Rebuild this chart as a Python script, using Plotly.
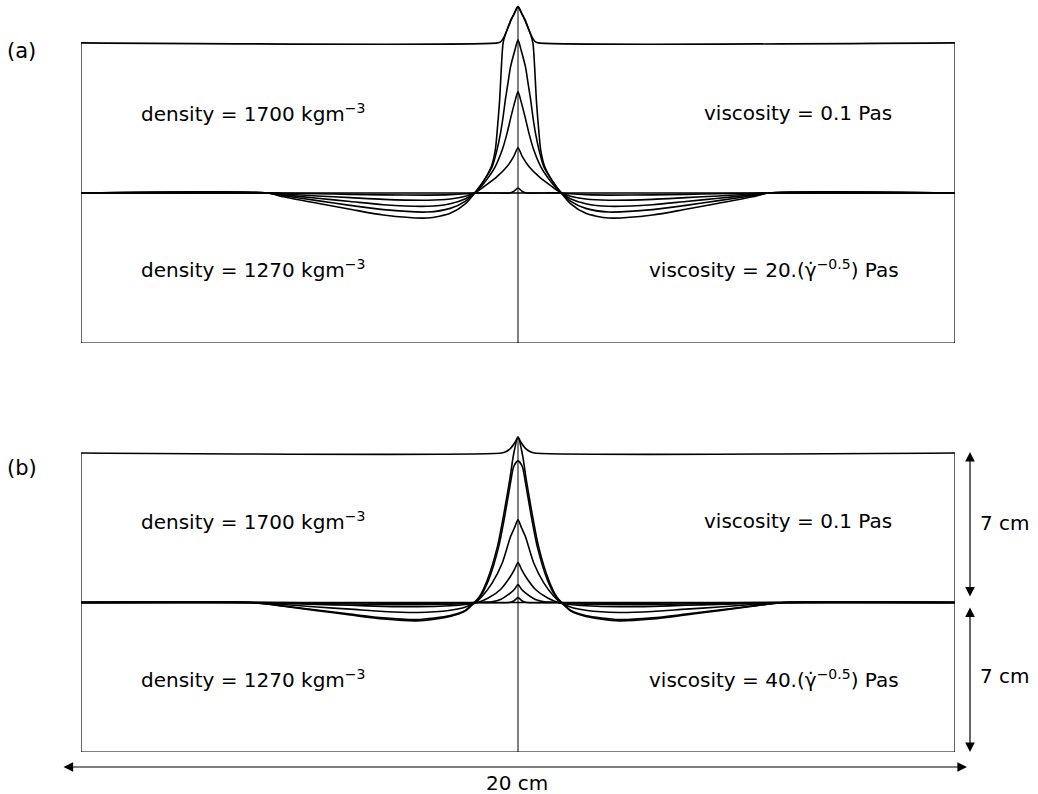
import plotly.graph_objects as go

# ---------------- data (cm); half profiles x <= 0, mirrored about x = 0
# Panel (a)
A_TROUGH_X = [-10, -5.74, -5.37, -4.59, -3.84, -3.08, -2.07, -1.55, -1.2]
A1_TROUGH = [0, 0, -0.015, -0.04, -0.065, -0.09, -0.10, -0.08, -0.04]
A2_TROUGH = [0, 0, -0.05, -0.14, -0.22, -0.30, -0.34, -0.28, -0.15]
A3_TROUGH = [0, 0, -0.09, -0.25, -0.40, -0.55, -0.62, -0.50, -0.27]
A4_TROUGH = [0, 0, -0.13, -0.36, -0.58, -0.78, -0.89, -0.72, -0.38]
A5_TROUGH = [0, 0, -0.18, -0.48, -0.76, -1.03, -1.17, -0.95, -0.50]

A1_PEAK_X = [-0.97, -0.6, -0.2, -0.1, 0]
A1_PEAK_Y = [0, 0, 0, 0.07, 0.23]
A2_PEAK_X = [-0.97, -0.78, -0.48, -0.25, -0.10, 0]
A2_PEAK_Y = [0.02, 0.29, 0.76, 1.23, 1.69, 2.11]
A3_PEAK_X = [-0.93, -0.72, -0.52, -0.36, -0.25, -0.16, -0.06, 0]
A3_PEAK_Y = [0.10, 0.61, 1.23, 2.01, 2.79, 3.56, 4.34, 4.73]
A4_PEAK_X = [-0.97, -0.77, -0.59, -0.48, -0.40, -0.34, -0.29, -0.23, -0.17, -0.07, 0]
A4_PEAK_Y = [0.05, 0.61, 1.23, 2.01, 2.79, 3.56, 4.34, 5.12, 5.89, 6.67, 7.14]
A5_PEAK_X = [-0.97, -0.77, -0.61, -0.52, -0.48, -0.42, -0.38, -0.34, -0.28, -0.22, -0.16, -0.08, 0]
A5_PEAK_Y = [0.05, 0.61, 1.23, 2.00, 2.79, 4.34, 5.90, 7.01, 7.45, 7.76, 8.07, 8.39, 8.69]
A_TOP_X = [-10, -0.47, -0.40, -0.34, -0.28, -0.22, -0.16, -0.08, 0]
A_TOP_Y = [7, 7, 7.05, 7.2, 7.45, 7.76, 8.07, 8.39, 8.69]

# Panel (b)
B_TROUGH_X = [-10, -6.13, -5.37, -4.6, -3.84, -3.08, -2.31, -1.55, -1.2]
B1_TROUGH = [0, 0, -0.006, -0.013, -0.02, -0.027, -0.03, -0.023, -0.014]
B2_TROUGH = [0, 0, -0.02, -0.044, -0.067, -0.09, -0.10, -0.076, -0.045]
B3_TROUGH = [0, 0, -0.04, -0.09, -0.13, -0.18, -0.20, -0.15, -0.09]
B4_TROUGH = [0, 0, -0.09, -0.21, -0.31, -0.42, -0.47, -0.36, -0.21]
B5_TROUGH = [0, 0, -0.16, -0.35, -0.54, -0.72, -0.80, -0.61, -0.36]
B6_TROUGH = [0, 0, -0.17, -0.38, -0.58, -0.77, -0.86, -0.65, -0.39]

B1_PEAK_X = [-0.9, -0.2, -0.1, 0]
B1_PEAK_Y = [0, 0, 0.07, 0.23]
B2_PEAK_X = [-0.9, -0.6, -0.4, -0.17, -0.08, 0]
B2_PEAK_Y = [0, 0.03, 0.14, 0.45, 0.62, 0.84]
B3_PEAK_X = [-0.92, -0.67, -0.4, -0.17, -0.08, 0]
B3_PEAK_Y = [0, 0.22, 0.61, 1.23, 1.55, 1.87]
B4_PEAK_X = [-0.97, -0.82, -0.59, -0.36, -0.17, -0.08, 0]
B4_PEAK_Y = [0, 0.29, 0.92, 1.85, 3.09, 3.5, 3.87]
B5_PEAK_X = [-1.0, -0.86, -0.67, -0.44, -0.29, -0.16, -0.1, 0]
B5_PEAK_Y = [0, 0.29, 1.07, 2.63, 4.2, 5.74, 6.36, 6.64]
B6_PEAK_X = [-1.0, -0.88, -0.70, -0.47, -0.32, -0.19, -0.1, 0]
B6_PEAK_Y = [0, 0.29, 1.07, 2.63, 4.2, 5.74, 6.95, 7.75]
B_TOP_X = [-10, -0.38, -0.28, -0.17, -0.06, 0]
B_TOP_Y = [7, 7, 7.06, 7.22, 7.53, 7.75]

LABEL_TOP = "density = 1700 kgm<sup>−3</sup>"
LABEL_BOTTOM = "density = 1270 kgm<sup>−3</sup>"
VISC_TOP = "viscosity = 0.1 Pas"
VISC_A = "viscosity = 20.(γ̇<sup>−0.5</sup>) Pas"
VISC_B = "viscosity = 40.(γ̇<sup>−0.5</sup>) Pas"
PANEL_LABELS = ["(a)", "(b)"]
WIDTH_LABEL = "20 cm"
HEIGHT_LABEL = "7 cm"
BOX_HALF_W = 10
BOX_HALF_H = 7


def mirror(hx, hy):
    xs = list(hx) + [-v for v in reversed(hx[:-1])]
    ys = list(hy) + list(reversed(hy[:-1]))
    return xs, ys


fig = go.Figure()
W, H = 1038, 794
LINE = dict(color="black", width=1.6, shape="spline", smoothing=0.7)


def add_curve(hx, hy, xa, ya):
    xs, ys = mirror(hx, hy)
    fig.add_trace(go.Scatter(x=xs, y=ys, mode="lines", line=LINE,
                             xaxis=xa, yaxis=ya, showlegend=False, hoverinfo="skip"))


panels = [
    ("x", "y", A_TROUGH_X,
     [(A1_TROUGH, A1_PEAK_X, A1_PEAK_Y), (A2_TROUGH, A2_PEAK_X, A2_PEAK_Y),
      (A3_TROUGH, A3_PEAK_X, A3_PEAK_Y), (A4_TROUGH, A4_PEAK_X, A4_PEAK_Y),
      (A5_TROUGH, A5_PEAK_X, A5_PEAK_Y)], A_TOP_X, A_TOP_Y),
    ("x2", "y2", B_TROUGH_X,
     [(B1_TROUGH, B1_PEAK_X, B1_PEAK_Y), (B2_TROUGH, B2_PEAK_X, B2_PEAK_Y),
      (B3_TROUGH, B3_PEAK_X, B3_PEAK_Y), (B4_TROUGH, B4_PEAK_X, B4_PEAK_Y),
      (B5_TROUGH, B5_PEAK_X, B5_PEAK_Y), (B6_TROUGH, B6_PEAK_X, B6_PEAK_Y)], B_TOP_X, B_TOP_Y),
]

shapes = []
for xa, ya, tx, curves, topx, topy in panels:
    # initial flat interface
    fig.add_trace(go.Scatter(x=[-BOX_HALF_W, BOX_HALF_W], y=[0, 0], mode="lines",
                             line=dict(color="black", width=1.5), xaxis=xa, yaxis=ya,
                             showlegend=False, hoverinfo="skip"))
    for tr, px, py in curves:
        add_curve(tx + px, tr + py, xa, ya)
    # deformed top surface
    add_curve(topx, topy, xa, ya)
    box = dict(type="line", xref=xa, yref=ya, line=dict(color="black", width=1.2))
    shapes.append({**box, "x0": -BOX_HALF_W, "x1": -BOX_HALF_W, "y0": -BOX_HALF_H, "y1": BOX_HALF_H})
    shapes.append({**box, "x0": BOX_HALF_W, "x1": BOX_HALF_W, "y0": -BOX_HALF_H, "y1": BOX_HALF_H})
    shapes.append({**box, "x0": -BOX_HALF_W, "x1": BOX_HALF_W, "y0": -BOX_HALF_H, "y1": -BOX_HALF_H})
    shapes.append({**box, "x0": 0, "x1": 0, "y0": -BOX_HALF_H, "y1": topy[-1],
                   "line": dict(color="black", width=1)})

XDOM = [81 / W, 955 / W]
ax_common = dict(visible=False, showgrid=False, zeroline=False, fixedrange=True)
fig.update_layout(
    width=W, height=H, margin=dict(l=0, r=0, t=0, b=0),
    paper_bgcolor="white", plot_bgcolor="white",
    xaxis=dict(domain=XDOM, range=[-10, 10], anchor="y", **ax_common),
    yaxis=dict(domain=[1 - 343 / H, 1.0], range=[-7, 9.0], anchor="x", **ax_common),
    xaxis2=dict(domain=XDOM, range=[-10, 10], anchor="y2", **ax_common),
    yaxis2=dict(domain=[1 - 752 / H, 1 - 421 / H], range=[-7, 8.5], anchor="x2", **ax_common),
    shapes=shapes,
    font=dict(family="DejaVu Sans, Arial, sans-serif", color="black", size=20),
)

ann = []
FS = 20


def P(x, y):
    return x / W, 1 - y / H


def text(t, px, py, xanchor="left", size=FS):
    x, y = P(px, py)
    ann.append(dict(text=t, x=x, y=y, xref="paper", yref="paper", showarrow=False,
                    xanchor=xanchor, yanchor="middle",
                    font=dict(size=size, family="DejaVu Sans, Arial, sans-serif", color="black")))


text(PANEL_LABELS[0], 5, 51, size=21)
text(PANEL_LABELS[1], 5, 468, size=21)
text(LABEL_TOP, 139, 113)
text(LABEL_BOTTOM, 139, 269)
text(VISC_TOP, 894, 113, "right")
text(VISC_A, 901, 269, "right")
text(LABEL_TOP, 139, 521)
text(LABEL_BOTTOM, 139, 679)
text(VISC_TOP, 894, 521, "right")
text(VISC_B, 901, 679, "right")
text(WIDTH_LABEL, 517, 783, "center")
text(HEIGHT_LABEL, 978, 523)
text(HEIGHT_LABEL, 978, 676)


def arrow(x0, y0, x1, y1):
    x, y = P(x1, y1)
    ann.append(dict(text="", x=x, y=y, xref="paper", yref="paper", showarrow=True,
                    axref="pixel", ayref="pixel", ax=x0 - x1, ay=y0 - y1,
                    arrowhead=2, startarrowhead=2, arrowside="end+start",
                    arrowsize=1.6, startarrowsize=1.6, arrowwidth=1.2,
                    arrowcolor="black", standoff=0, startstandoff=0,
                    font=dict(size=12)))


arrow(62, 767, 967, 767)
arrow(970, 598, 970, 452)
arrow(970, 606, 970, 752)

fig.update_layout(annotations=ann)
fig.write_html("out.html", config={"displayModeBar": False},
               post_script="document.body.style.margin='0';document.body.style.overflow='hidden';")
